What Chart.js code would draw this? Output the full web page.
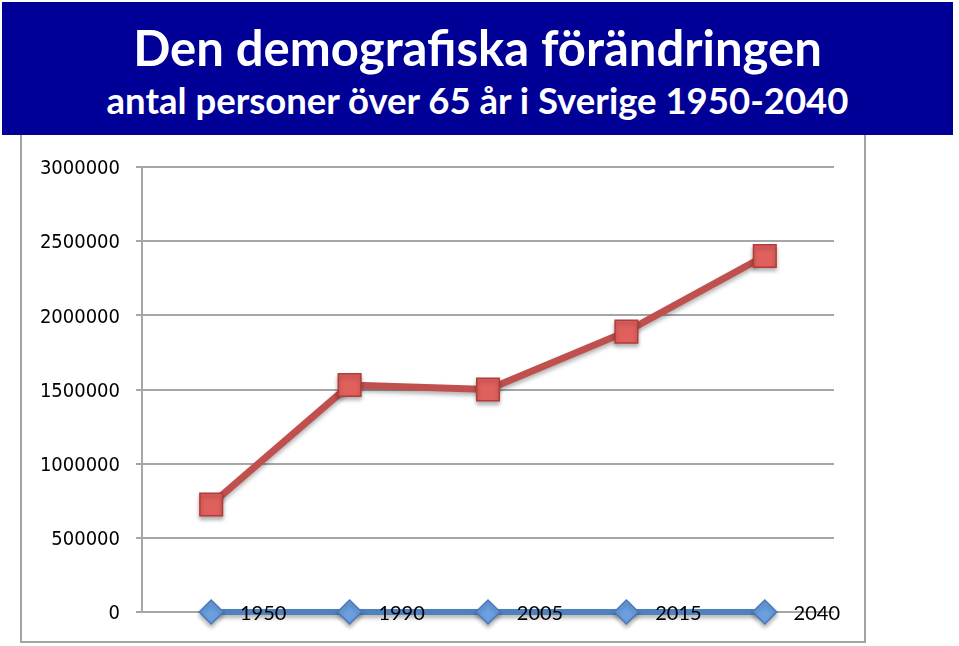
<!DOCTYPE html>
<html>
<head>
<meta charset="utf-8">
<script src="https://cdn.jsdelivr.net/npm/chart.js@4/dist/chart.umd.min.js"></script>
<style>
  body { margin: 0; background: #fff; width: 959px; height: 646px; overflow: hidden; position: relative; }
  #header {
    position: absolute; left: 2px; top: 2px; width: 951px; height: 133px;
    background: #000096; color: #fff; text-align: center;
    font-family: Lato, "Open Sans", sans-serif; font-weight: bold;
  }
  #title { position: absolute; left: 0; right: 0; top: 14px; font-size: 49px; line-height: 62px; }
  #subtitle { position: absolute; left: 0; right: 0; top: 73px; font-size: 36.5px; line-height: 50px; }
  #frame {
    position: absolute; left: 20px; top: 135px; width: 842px; height: 506px;
    border: 2px solid #a3a3a3; border-top: none;
  }
  #wrap { position: absolute; left: 0; top: 0; width: 959px; height: 646px; }
</style>
</head>
<body>
<div id="header">
  <div id="title">Den demografiska förändringen</div>
  <div id="subtitle">antal personer över 65 år i Sverige 1950-2040</div>
</div>
<div id="frame"></div>
<div id="wrap"><canvas id="myChart"></canvas></div>
<script>
const years = ['1950', '1990', '2005', '2015', '2040']
const over65 = [725000, 1530000, 1500000, 1890000, 2400000]
const baseline = [0, 0, 0, 0, 0]
const yTicks = [0, 500000, 1000000, 1500000, 2000000, 2500000, 3000000]

// soft drop shadow under the series, like the original
const shadow = {
    id: 'shadow',
    beforeDatasetsDraw(chart) {
        const ctx = chart.ctx
        ctx.save()
        ctx.shadowColor = 'rgba(0,0,0,0.3)'
        ctx.shadowBlur = 4
        ctx.shadowOffsetY = 3
    },
    afterDatasetsDraw(chart) {
        chart.ctx.restore()
    }
}

generateChart()
function generateChart(){
    const info = {
        labels: years,
        datasets: [{
            data: over65,
            clip: false,
            borderColor: '#c0504d',
            borderWidth: 7,
            pointStyle: 'rect',
            pointRadius: 16,
            pointBackgroundColor: '#e0605d',
            pointBorderColor: '#b13c39',
            pointBorderWidth: 1.5,
            tension: 0
        }, {
            data: baseline,
            clip: false,
            borderColor: '#4f81bd',
            borderWidth: 6,
            pointStyle: 'rectRot',
            pointRadius: 12,
            pointBackgroundColor: '#6b9fe0',
            pointBorderColor: '#4a78b8',
            pointBorderWidth: 1.5,
            tension: 0
        }]
    }

    const options = {
        responsive: false,
        animation: false,
        layout: { padding: { left: 0, right: 125, top: 167, bottom: 34 } },
        scales: {
            y: {
                min: 0,
                max: 3000000,
                afterBuildTicks: (scale) => { scale.ticks = yTicks.map(v => ({ value: v })) },
                afterFit: (scale) => { scale.width = 142 },
                ticks: {
                    padding: 16,
                    labelOffset: 2,
                    color: '#000',
                    font: { family: "'DejaVu Sans Condensed', 'DejaVu Sans'", size: 20 },
                    callback: (v) => String(v)
                },
                grid: { color: '#a6a6a6', lineWidth: 2, tickLength: 6 },
                border: { color: '#a6a6a6', width: 2 }
            },
            x: {
                offset: true,
                afterFit: (scale) => { scale.height = 0 },
                ticks: {
                    mirror: true,
                    z: 1,
                    padding: -14,
                    labelOffset: 52,
                    color: '#000',
                    font: { family: 'Lato', size: 20 }
                },
                grid: { display: false, drawTicks: false },
                border: { display: false }
            }
        },
        plugins: {
            legend: { display: false },
            tooltip: { enabled: false }
        }
    }

    const canvas = document.getElementById('myChart')
    canvas.width = 959
    canvas.height = 646
    new Chart(canvas, { type: 'line', data: info, options, plugins: [shadow] })
}
</script>
</body>
</html>
